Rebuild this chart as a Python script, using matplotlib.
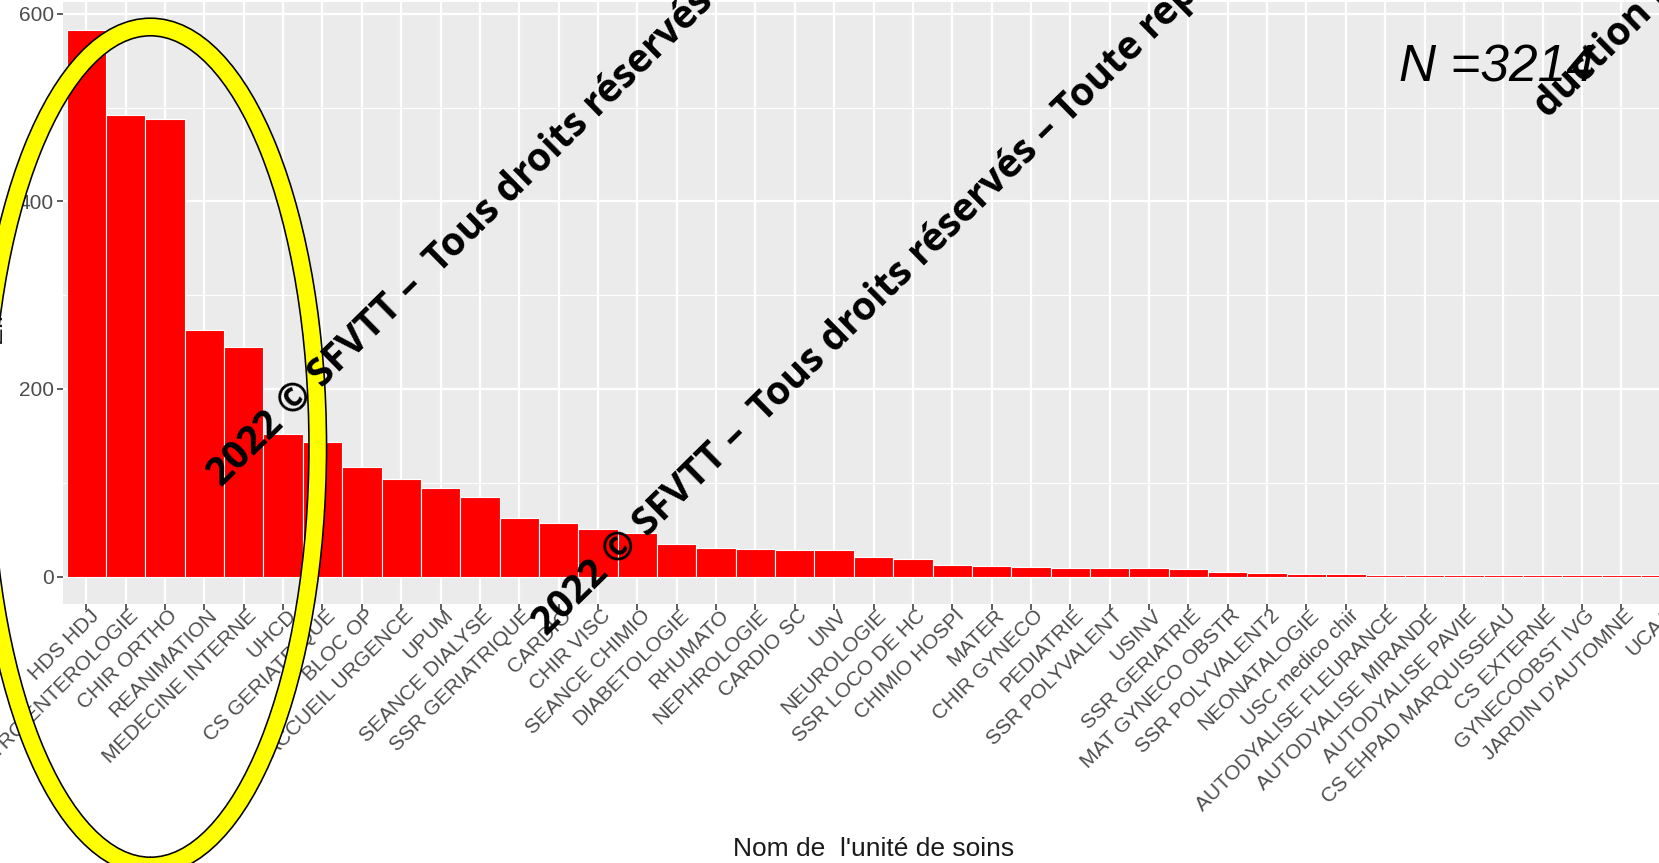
import numpy as np
import matplotlib
matplotlib.use('Agg')
import matplotlib.pyplot as plt
from matplotlib.patches import Ellipse
from matplotlib.transforms import ScaledTranslation

# data
units = [
    'HDS HDJ', 'GASTRO ENTEROLOGIE', 'CHIR ORTHO', 'REANIMATION', 'MEDECINE INTERNE',
    'UHCD', 'CS GERIATRIQUE', 'BLOC OP', 'ACCUEIL URGENCE', 'UPUM',
    'SEANCE DIALYSE', 'SSR GERIATRIQUE', 'CARDIO', 'CHIR VISC', 'SEANCE CHIMIO',
    'DIABETOLOGIE', 'RHUMATO', 'NEPHROLOGIE', 'CARDIO SC', 'UNV',
    'NEUROLOGIE', 'SSR LOCO DE HC', 'CHIMIO HOSPI', 'MATER', 'CHIR GYNECO',
    'PEDIATRIE', 'SSR POLYVALENT', 'USINV', 'SSR GERIATRIE', 'MAT GYNECO OBSTR',
    'SSR POLYVALENT2', 'NEONATALOGIE', 'USC medico chir', 'AUTODYALISE FLEURANCE',
    'AUTODYALISE MIRANDE', 'AUTODYALISE PAVIE', 'CS EHPAD MARQUISSEAU', 'CS EXTERNE',
    'GYNECOOBST IVG', "JARDIN D'AUTOMNE", 'UCAA',
]
counts = [
    583, 492, 488, 263, 245, 152, 144, 117, 104, 94,
    85, 62, 57, 51, 47, 35, 30, 29, 28, 28,
    21, 19, 12, 11, 10, 9, 9, 9, 8, 5,
    4, 3, 3, 2, 2, 2, 2, 2, 2, 2, 2,
]
y_ticks = [0, 200, 400, 600]
y_minor = [100, 300, 500]
total_label = 'N =3214'
watermark = '2022 \u00a9 SFVTT \u2013  Tous droits r\u00e9serv\u00e9s \u2013 Toute reproduction non autoris\u00e9e'
watermark_tail = 'duction non autoris\u00e9e'
highlight = 6  # first units circled

W, H = 1659, 863
plt.rcParams['font.family'] = ['Liberation Sans', 'DejaVu Sans']
fig = plt.figure(figsize=(W / 100, H / 100), dpi=100)


def fx(px):
    return px / W


def fy(py):
    return 1 - py / H


# panel placement (pixels), ggplot-like expansion
n = len(units)
ymax = max(counts)
y_lo, y_hi = -0.05 * ymax, 1.05 * ymax
py0, py600 = 576.6, 13.8
k = (py0 - py600) / 600
p_bottom = py0 - y_lo * k
p_top = py0 - y_hi * k
unit_px = 39.36
p_left = 62.7
p_right = p_left + (n + 0.2) * unit_px

ax = fig.add_axes([fx(p_left), fy(p_bottom), (p_right - p_left) / W, (p_bottom - p_top) / H])
ax.set_facecolor('#EBEBEB')
for s in ax.spines.values():
    s.set_visible(False)

x = np.arange(n)
ax.bar(x, counts, width=1.0, color='#FF0000', edgecolor='white', linewidth=0.8, zorder=3)
ax.set_xlim(-0.6, n - 0.4)
ax.set_ylim(y_lo, y_hi)

ax.set_yticks(y_ticks)
ax.set_yticks(y_minor, minor=True)
ax.set_xticks(x)
ax.set_axisbelow(True)
ax.grid(which='major', color='white', linewidth=1.6)
ax.grid(which='minor', axis='y', color='white', linewidth=0.8)
ax.tick_params(axis='both', which='major', color='#333333', length=4.3, width=1.1,
               labelcolor='#4D4D4D', labelsize=15)
ax.tick_params(axis='x', pad=5)
ax.tick_params(axis='y', pad=2)
ax.tick_params(which='minor', length=0)

ax.set_xticklabels(units, rotation=45, ha='right', va='top', rotation_mode='anchor')
# nudge rotated labels like ggplot's hjust/vjust placement
shift = ScaledTranslation(0.03, 0.11, fig.dpi_scale_trans)
for lbl in ax.get_xticklabels():
    lbl.set_transform(lbl.get_transform() + shift)

ax.set_xlabel("Nom de  l'unit\u00e9 de soins", fontsize=19, color='#1A1A1A')
ax.xaxis.set_label_coords(0.5, -(848.5 - p_bottom) / (p_bottom - p_top))
ax.xaxis.label.set_va('center')
ax.set_ylabel('Effectif', fontsize=19, color='#1A1A1A')
ax.yaxis.set_label_coords(-(p_left + 6) / (p_right - p_left), 0.5)
ax.yaxis.label.set_va('center')

# yellow ring around the first units
cx = (highlight - 1) / 2 - 0.87
ring_w = 8.5
ring_h = 839 / k
ring_cy = (py0 - 446.5) / k
ax.add_patch(Ellipse((cx, ring_cy), ring_w, ring_h, fill=False, edgecolor='black',
                     linewidth=13.8, clip_on=False, zorder=10))
ax.add_patch(Ellipse((cx, ring_cy), ring_w, ring_h, fill=False, edgecolor='#FFFF00',
                     linewidth=11.5, clip_on=False, zorder=11))

fig.text(fx(1399), fy(81.5), total_label, fontsize=37, style='italic',
         ha='left', va='baseline', color='black', zorder=12)

wm = dict(rotation=44.5, rotation_mode='anchor', ha='left', va='baseline',
          fontsize=28, fontweight='bold', family='Open Sans', color='black', zorder=20)
fig.text(fx(222), fy(488), watermark, **wm)
fig.text(fx(547), fy(637), watermark, **wm)
fig.text(fx(1548), fy(119), watermark_tail, **wm)

fig.savefig('out.png', dpi=100)
